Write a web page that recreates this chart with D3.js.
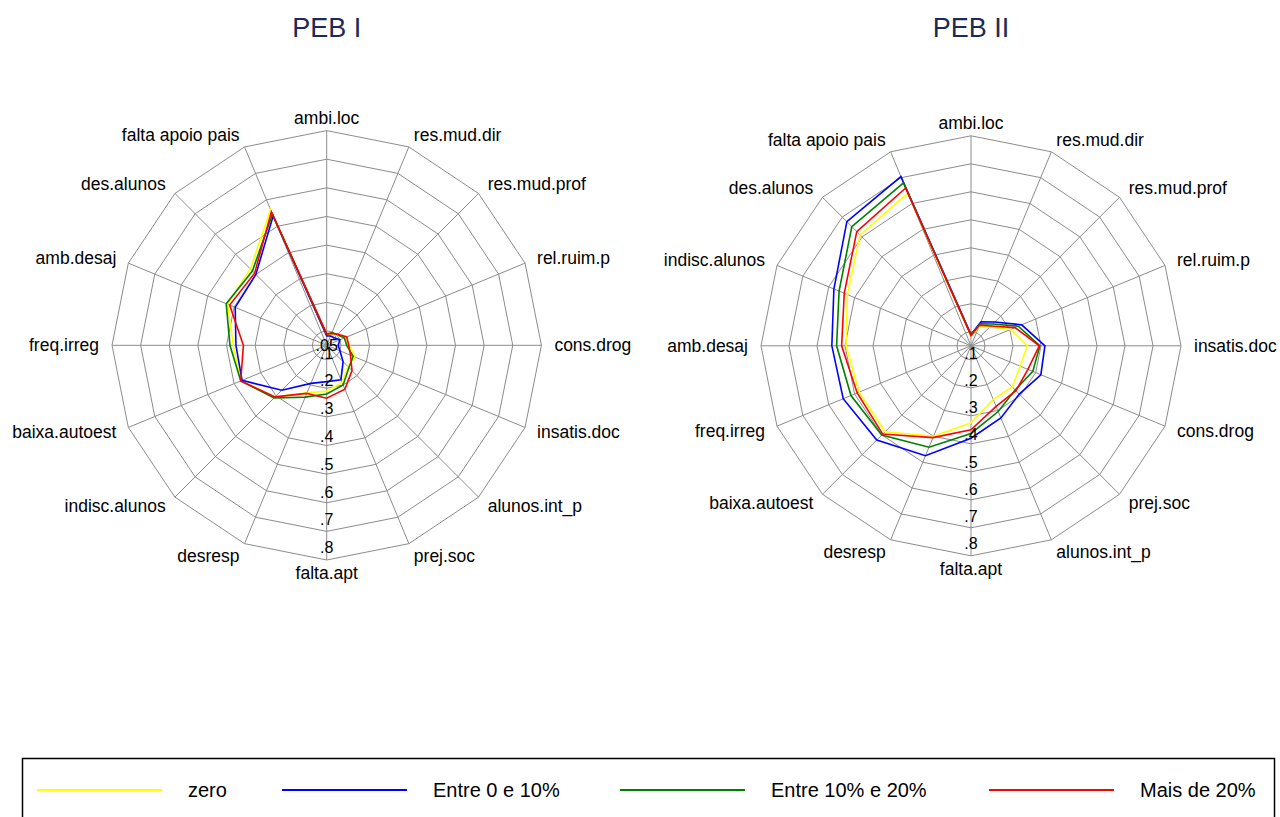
<!DOCTYPE html>
<html><head><meta charset="utf-8">
<script src="https://cdn.jsdelivr.net/npm/d3@7"></script>
<style>body{margin:0;background:#fff;font-family:"Liberation Sans",Arial,sans-serif}</style>
</head><body><svg id="c" width="1280" height="817"></svg>
<script>
// ---- data ----
const categoriesL = ["ambi.loc","res.mud.dir","res.mud.prof","rel.ruim.p","cons.drog","insatis.doc","alunos.int_p","prej.soc","falta.apt","desresp","indisc.alunos","baixa.autoest","freq.irreg","amb.desaj","des.alunos","falta apoio pais"];
const categoriesR = ["ambi.loc","res.mud.dir","res.mud.prof","rel.ruim.p","insatis.doc","cons.drog","prej.soc","alunos.int_p","falta.apt","desresp","baixa.autoest","freq.irreg","amb.desaj","indisc.alunos","des.alunos","falta apoio pais"];
const seriesNames = ["zero","Entre 0 e 10%","Entre 10% e 20%","Mais de 20%"];
const seriesColors = ["#ffff00","#0000ff","#008000","#ff0000"];
// PEB I
const zeroL   = [.085,.090,.100,.120,.130,.157,.155,.190,.210,.230,.305,.375,.376,.425,.427,.563];
const e0_10L  = [.083,.085,.087,.100,.090,.100,.131,.180,.177,.194,.272,.370,.367,.396,.400,.539];
const e10_20L = [.088,.098,.103,.117,.120,.150,.160,.200,.220,.246,.310,.375,.388,.430,.417,.546];
const mais20L = [.090,.095,.105,.126,.127,.140,.175,.216,.235,.232,.305,.375,.341,.417,.406,.555];
// PEB II
const zeroR   = [.085,.125,.145,.203,.251,.240,.258,.257,.325,.400,.484,.482,.496,.528,.610,.640];
const e0_10R  = [.090,.143,.170,.246,.314,.320,.294,.329,.380,.475,.526,.544,.547,.580,.677,.704];
const e10_20R = [.088,.135,.160,.233,.296,.289,.273,.304,.363,.442,.501,.514,.530,.560,.652,.680];
const mais20R = [.087,.130,.150,.220,.294,.270,.277,.284,.350,.405,.496,.490,.512,.540,.627,.660];
const ringValues = [.1,.2,.3,.4,.5,.6,.7,.8];
const tickLabelsL = [".05",".1",".2",".3",".4",".5",".6",".7",".8"];
const tickLabelsR = [".1",".2",".3",".4",".5",".6",".7",".8"];
const scaleMin = 0.05, scaleMax = 0.8;

const svg = d3.select("#c");

function radar(cfg){
  const g = svg.append("g").attr("transform",`translate(${cfg.cx},${cfg.cy})`);
  const n = cfg.cats.length;
  const r = d3.scaleLinear().domain([scaleMin, scaleMax]).range([0, cfg.R]);
  const ang = d3.scaleLinear().domain([0,n]).range([0, 2*Math.PI]);
  const pt = (i,v)=>[r(v)*Math.sin(ang(i)), -r(v)*Math.cos(ang(i))];
  // rings
  ringValues.forEach(v=>{
    g.append("path").attr("d", d3.line()(d3.range(n).map(i=>pt(i,v))) + "Z")
      .attr("fill","none").attr("stroke","#8c8c8c").attr("stroke-width",1);
  });
  // spokes
  d3.range(n).forEach(i=>{
    const p = pt(i, scaleMax);
    g.append("line").attr("x1",0).attr("y1",0).attr("x2",p[0]).attr("y2",p[1])
      .attr("stroke","#8c8c8c").attr("stroke-width",1);
  });
  // series
  cfg.series.forEach((s,k)=>{
    g.append("path").attr("d", d3.line()(s.map((v,i)=>pt(i,v))) + "Z")
      .attr("fill","none").attr("stroke",seriesColors[k]).attr("stroke-width",1.6)
      .attr("stroke-linejoin","miter");
  });
  // category labels
  cfg.cats.forEach((c,i)=>{
    const a = ang(i), s = Math.sin(a), co = Math.cos(a);
    const rr = cfg.R + 13;
    let x = rr*s, y = -rr*co;
    let anchor = s > 0.1 ? "start" : (s < -0.1 ? "end" : "middle");
    g.append("text").attr("x",x).attr("y",y).attr("text-anchor",anchor)
      .attr("dominant-baseline","central").attr("font-size",17.5).attr("fill","#000").text(c);
  });
  // tick labels
  cfg.ticks.forEach(t=>{
    const v = +t;
    g.append("text").attr("x",0).attr("y", Math.max(r(v)*0.97-6, 0)).attr("text-anchor","middle")
      .attr("dominant-baseline","central").attr("font-size",16).attr("fill","#000").text(t);
  });
  // title
  svg.append("text").attr("x",cfg.cx).attr("y",28).attr("text-anchor","middle")
    .attr("dominant-baseline","central").attr("font-size",27).attr("fill","#1c2a57").text(cfg.title);
}

radar({cx:326.7, cy:345.3, R:214.7, cats:categoriesL, ticks:tickLabelsL, title:"PEB I",
  series:[zeroL,e0_10L,e10_20L,mais20L]});
radar({cx:971, cy:345.8, R:210, cats:categoriesR, ticks:tickLabelsR, title:"PEB II",
  series:[zeroR,e0_10R,e10_20R,mais20R]});

// legend
const lg = svg.append("g");
lg.append("rect").attr("x",22.5).attr("y",758.5).attr("width",1252).attr("height",70)
  .attr("fill","#fff").attr("stroke","#000").attr("stroke-width",1.5);
const legX = [37, 282, 620, 989];
seriesNames.forEach((nm,k)=>{
  lg.append("line").attr("x1",legX[k]).attr("x2",legX[k]+125).attr("y1",790).attr("y2",790)
    .attr("stroke",seriesColors[k]).attr("stroke-width",2);
  lg.append("text").attr("x",legX[k]+151).attr("y",790).attr("dominant-baseline","central")
    .attr("font-size",20).attr("fill","#000").text(nm);
});
</script></body></html>
